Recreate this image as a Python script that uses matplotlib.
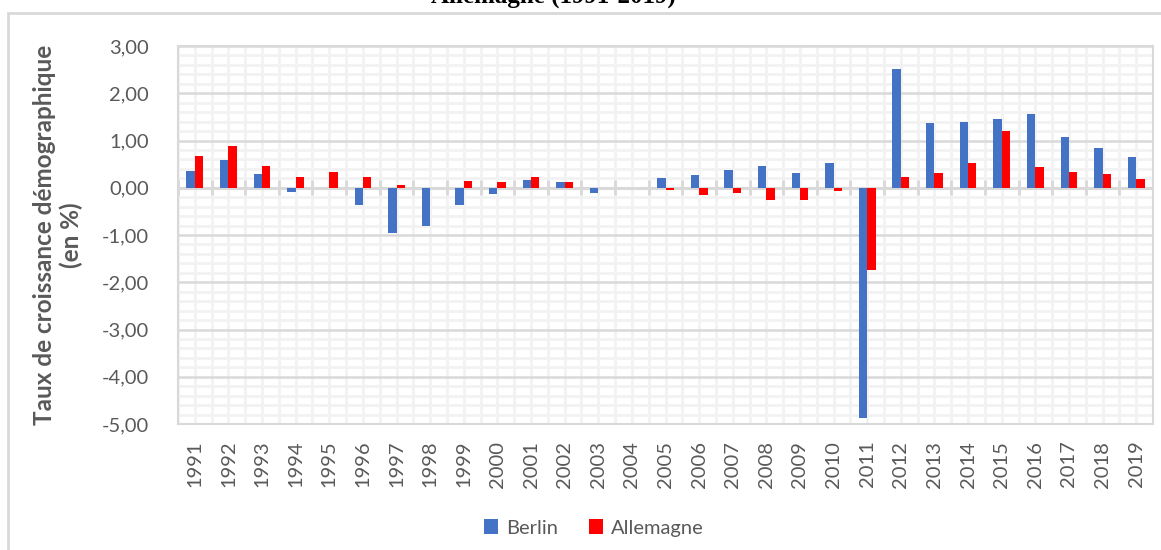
import matplotlib
matplotlib.use('Agg')
import matplotlib.pyplot as plt
from matplotlib.patches import Rectangle
import numpy as np

plt.rcParams['font.family'] = ['Lato', 'DejaVu Sans']

annees = [str(a) for a in range(1991, 2020)]
berlin = [0.36, 0.58, 0.29, -0.08, 0.00, -0.37, -0.96, -0.80, -0.36, -0.14,
          0.17, 0.12, -0.11, 0.00, 0.20, 0.26, 0.37, 0.45, 0.31, 0.53,
          -4.87, 2.51, 1.37, 1.40, 1.45, 1.56, 1.07, 0.85, 0.66]
allemagne = [0.67, 0.88, 0.46, 0.23, 0.34, 0.23, 0.05, 0.00, 0.14, 0.12,
             0.23, 0.12, 0.00, 0.00, -0.05, -0.15, -0.12, -0.26, -0.26, -0.06,
             -1.75, 0.23, 0.31, 0.53, 1.21, 0.43, 0.34, 0.29, 0.18]
yticks = [3, 2, 1, 0, -1, -2, -3, -4, -5]

gris_txt = '#595959'
gris_maj = '#D9D9D9'
gris_min = '#F2F2F2'

fig = plt.figure(figsize=(11.61, 5.5), dpi=100)
ax = fig.add_axes([178/1161, 1-424/550, (1153-178)/1161, (424-46)/550])

x = np.arange(len(annees))
w = 0.25

# quadrillage
for v in np.arange(-5, 3.01, 0.2):
    if abs(v - round(v)) > 1e-6:
        ax.axhline(v, color=gris_min, lw=2, zorder=0)
for v in np.arange(-0.5, len(annees), 0.5):
    ax.axvline(v, color=gris_min, lw=2, zorder=0)
for v in yticks:
    ax.axhline(v, color=gris_maj, lw=1.8, zorder=0.5)

ax.bar(x - w/2, berlin, width=w, color='#4472C4', label='Berlin', zorder=3)
ax.bar(x + w/2, allemagne, width=w, color='#FF0000', label='Allemagne', zorder=3)

# axe horizontal a zero avec graduations
ax.axhline(0, color=gris_maj, lw=2.2, zorder=2)
ax.vlines(np.arange(-0.5, len(annees) + 0.5, 1), -0.16, 0.16, color=gris_maj, lw=2, zorder=2)

ax.set_xlim(-0.5, len(annees) - 0.5)
ax.set_ylim(-5, 3)
ax.set_yticks(yticks)
ax.set_yticklabels([('%.2f' % v).replace('.', ',') for v in yticks])
ax.set_xticks(x)
ax.set_xticklabels(annees, rotation=90)
ax.tick_params(axis='y', length=0, pad=21, labelsize=14.5, labelcolor=gris_txt)
ax.tick_params(axis='x', length=0, pad=12, labelsize=14.5, labelcolor=gris_txt)
for s in ax.spines.values():
    s.set_color(gris_maj)
    s.set_linewidth(1.5)

fig.text(58/1161, 1-235/550, 'Taux de croissance démographique\n(en %)', rotation=90,
         ha='center', va='center', multialignment='center', fontsize=17.5,
         fontweight='bold', color=gris_txt, linespacing=1.15)

fig.text(553/1161, 1-3/550, 'Allemagne (1991-2019)', ha='center', va='baseline',
         fontsize=18, fontweight='bold', family='Liberation Serif', color='black')

fig.patches.append(Rectangle((8/1161, -0.05), 1.1, 1.05 - 13/550, transform=fig.transFigure,
                             fill=False, edgecolor=gris_maj, lw=2))

fig.legend(loc='center', bbox_to_anchor=(594/1161, 1-528/550), ncol=2, frameon=False,
           fontsize=14.5, labelcolor=gris_txt, handlelength=0.7, handleheight=0.7,
           handletextpad=0.4, columnspacing=1.5)

fig.savefig('out.png', dpi=100)
